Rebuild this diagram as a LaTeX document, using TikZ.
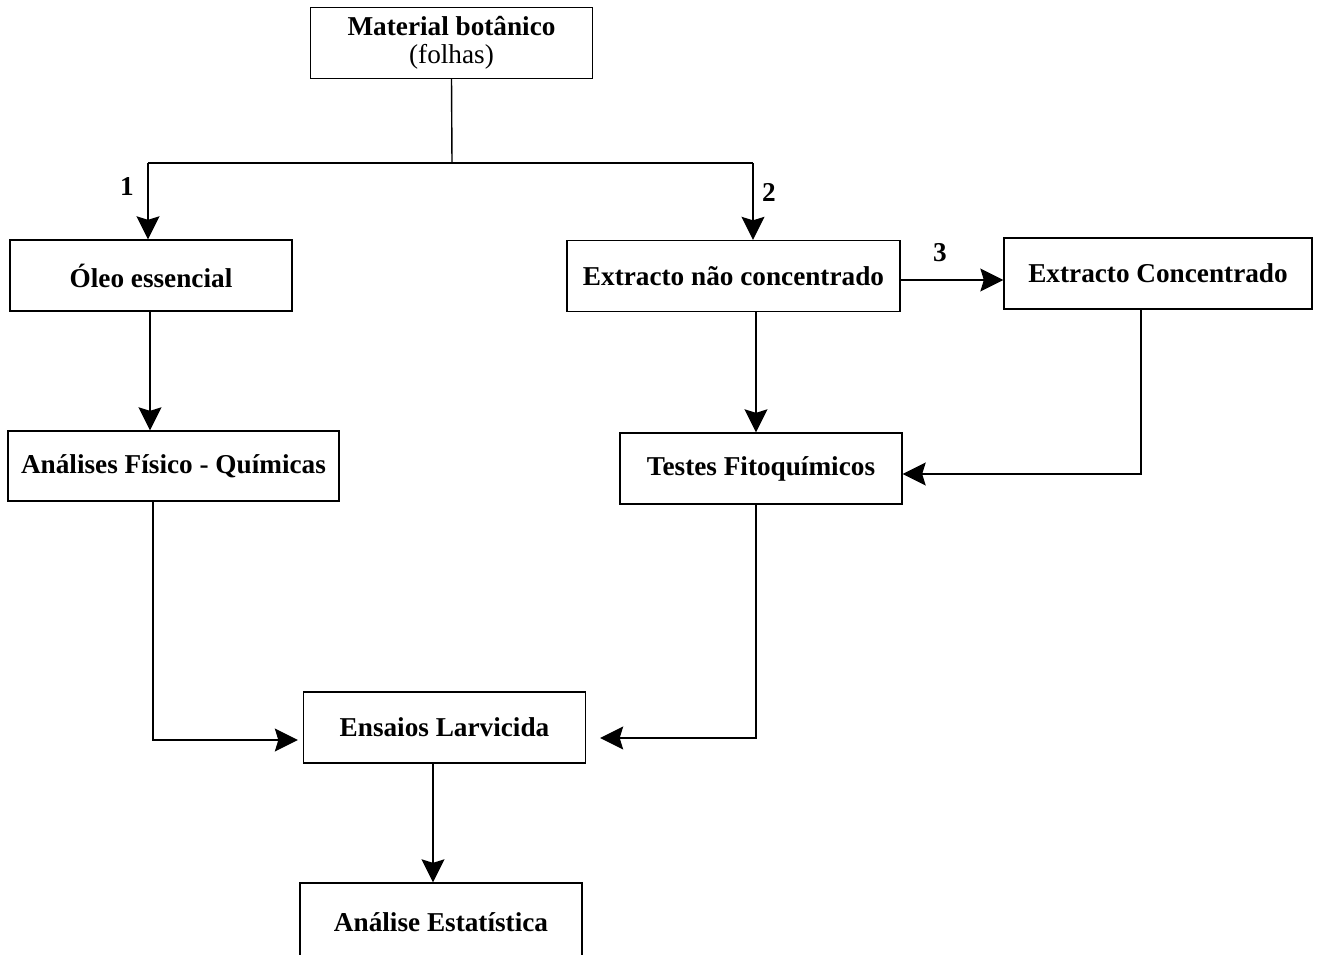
\documentclass[tikz,border=0pt]{standalone}
\usepackage{fontspec}
\setmainfont{Liberation Serif}
\usepackage{tikz}
\usetikzlibrary{arrows.meta, positioning, calc}

\begin{document}
\begin{tikzpicture}[
    x=0.02cm, y=-0.02cm,
    line width=0.8pt,
    every node/.style = {align=center},
    box/.style   = {draw, line width=0.8pt, minimum width=5.64cm, minimum height=1.42cm,
                    inner sep=0pt, font=\fontsize{15.5}{18}\selectfont\bfseries},
    arr/.style   = {-{Stealth[length=0.46cm, width=0.46cm, inset=0.07cm]}},
    num/.style   = {font=\fontsize{15.5}{18}\selectfont\bfseries},
]
\clip (0,0) rectangle (1317,954);

%% Boxes
\node[box] (mat) at (451.5,43) {Material botânico\\[-2pt]\mdseries (folhas)};
\node[box] (oleo) at (151,275.5) {Óleo essencial};
\node[box, minimum width=6.66cm] (extnao) at (733.5,276) {Extracto não concentrado};
\node[box, minimum width=6.16cm] (extcon) at (1158,273.5) {Extracto Concentrado};
\node[box, minimum width=6.62cm, minimum height=1.4cm] (fq) at (173.5,466) {Análises Físico - Químicas};
\node[box] (fito) at (761,468.5) {Testes Fitoquímicos};
\node[box] (ens) at (444.5,727.5) {Ensaios Larvicida};
\node[box, minimum height=1.56cm] (est) at (441,922) {Análise Estatística};

%% Split below the botanical material
\coordinate (split) at (452,163);
\coordinate (b1) at (148,163);
\coordinate (b2) at (753,163);
\draw (mat.south) -- (split);
\draw (b1) -- (b2);
\draw[arr] (b1) -- (b1 |- oleo.north);
\draw[arr] (b2) -- (b2 |- extnao.north);
\node[num] (n1) at (127,187) {1};
\node[num] (n2) at (769,192) {2};

%% Extract branch
\draw[arr] (extnao.east |- 0,280) -- (extcon.west |- 0,280);
\node[num] (n3) at (940,253) {3};
\coordinate (c1) at (756,0);
\draw[arr] (extnao.south -| c1) -- (fito.north -| c1);
\coordinate (c2) at (1141,474);
\draw[arr] (extcon.south -| c2) -- (c2) -- (fito.east |- c2);

%% Oil branch
\draw[arr] (oleo.south -| 150,0) -- (fq.north -| 150,0);

%% Into the larvicidal tests
\coordinate (j1) at (153,740);
\coordinate (j2) at (756,738);
\draw[arr, shorten >=0.1cm] (fq.south -| j1) -- (j1) -- (ens.west |- j1);
\draw[arr, shorten >=0.28cm] (fito.south -| j2) -- (j2) -- (ens.east |- j2);
\draw[arr] (ens.south -| 433,0) -- (est.north -| 433,0);

\end{tikzpicture}
\end{document}
